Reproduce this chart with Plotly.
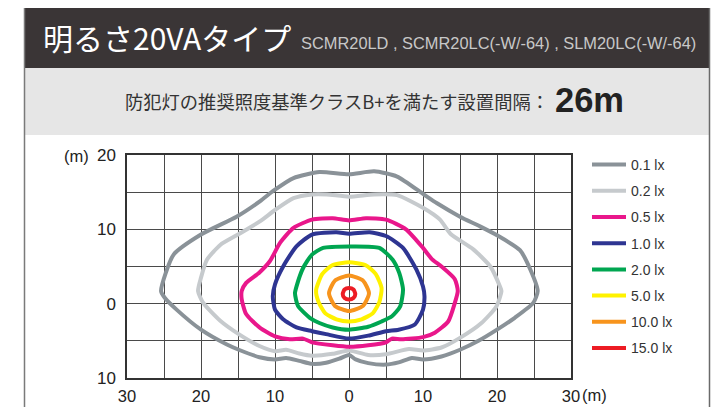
import plotly.graph_objects as go

# ---------------- data ----------------
levels = ["0.1 lx", "0.2 lx", "0.5 lx", "1.0 lx", "2.0 lx", "5.0 lx", "10.0 lx", "15.0 lx"]
colors = ["#8a9298", "#c6cacd", "#e9178b", "#2e3592", "#00a651", "#fff200", "#f7941d", "#ed1c24"]

lx01_x = [0, 3.4, 6.5, 10.1, 11.9, 15, 17.7, 20, 23.1, 24.5, 25.5, 24.9, 22.4, 20, 17.5, 15, 12.5, 10, 8.5, 6.7,
          5, 2.6, 0.9, 0, -1.3, -3.1, -5, -6.7, -8.5, -10, -12.1, -14.9, -16.5, -20, -23.3, -24.9, -25.4, -23.7, -20, -15.2,
          -12, -10.2, -7.5, -4, 0]
lx01_y = [17.4, 17.8, 17.1, 14.7, 13.5, 11.7, 10.4, 9.2, 7.2, 4.6, 1.7, 0.1, -1.9, -3.5, -5.0, -6.2, -7.1, -7.5, -7.3, -7.9,
          -8.2, -8.0, -7.5, -6.9, -7.4, -7.95, -8.1, -7.7, -7.3, -7.5, -7.2, -6.2, -5.5, -3.5, -0.8, 0.8, 1.7, 6.6, 9.3, 11.7,
          13.8, 15.2, 16.9, 17.7, 17.4]

lx02_x = [0, 3.4, 6.5, 10, 12.3, 13.7, 16.8, 19.1, 20.4, 20.6, 19.9, 17.9, 15, 12.5, 10, 8.1, 5, 2.6, 0, -2.2,
          -5, -6.7, -8.5, -10, -12.1, -14.9, -17.4, -19.7, -20.4, -20, -19.2, -17.4, -15, -12, -10, -7.5, -5, -3, 0]
lx02_y = [14.4, 14.7, 14.6, 12.9, 11.3, 9.4, 7.3, 5.0, 2.3, 1.7, -0.4, -2.6, -4.6, -5.9, -6.3, -6.1, -6.8, -6.9, -6.3, -6.75,
          -7.0, -6.7, -6.2, -6.4, -5.7, -4.1, -2.3, 0.1, 1.7, 3.5, 5.9, 7.9, 9.3, 11.1, 12.6, 14.2, 14.7, 14.7, 14.4]

lx05_x = [0, 2.3, 5, 7.7, 10, 11.2, 12.5, 14.3, 14.7, 14.3, 13.4, 11.6, 10, 7.1, 5.8, 5, 2.6, 0, -2.2, -5,
          -6.2, -8, -10, -12.1, -13.9, -14.5, -14.5, -13.9, -12.1, -10.7, -9.3, -7.5, -5, -2.2, 0]
lx05_y = [11.2, 11.5, 11.3, 10.0, 7.5, 6.0, 5.0, 3.3, 1.7, 0.1, -2.4, -3.9, -4.5, -4.8, -4.7, -5.2, -5.6, -5.8, -5.6, -5.2,
          -4.7, -4.8, -4.4, -3.2, -1.4, 0.6, 1.7, 2.8, 4.2, 5.7, 8.2, 10.2, 11.3, 11.5, 11.2]

lx10_x = [0, 2.8, 5, 7.3, 9.1, 10, 10.2, 10, 8.9, 6.7, 5, 2.6, 0, -3.1, -5, -7.1, -8.9, -10, -10.3, -10,
          -8.9, -7.1, -5, -1.7, 0]
lx10_y = [9.4, 9.6, 9.1, 7.5, 4.6, 2.3, 1.0, -0.8, -2.8, -3.5, -3.7, -4.3, -4.7, -4.1, -3.7, -3.2, -2.1, -0.8, 1.0, 2.6,
          5.0, 7.7, 9.3, 9.6, 9.4]

lx20_x = [0, 4.1, 5.9, 6.8, 7.3, 6.9, 5.8, 4.4, 2.6, 0, -2.2, -4, -5.3, -6.9, -7.3, -7.1, -6.2, -5, -3.5, 0]
lx20_y = [7.7, 7.5, 5.9, 4.1, 1.9, -0.4, -1.7, -2.4, -3.1, -3.5, -3.2, -2.6, -1.9, -0.3, 1.4, 2.3, 4.8, 6.6, 7.5, 7.7]

lx50_x = [0, 2.2, 3.6, 4.4, 4.1, 3.2, 1.7, 0, -1.7, -3.2, -4.1, -4.45, -3.6, -2.2, 0]
lx50_y = [5.56, 5.2, 4.0, 2.1, 0.2, -1.3, -2.1, -2.4, -2.1, -1.3, 0.2, 1.8, 4.0, 5.2, 5.56]

lx100_x = [0, 1.9, 2.7, 1.9, 0, -1.9, -2.7, -1.9, 0]
lx100_y = [3.8, 3.1, 1.4, -0.3, -1.0, -0.3, 1.4, 3.1, 3.8]

lx150_x = [0, 0.6, 0.85, 0.6, 0, -0.6, -0.85, -0.6, 0]
lx150_y = [2.1, 1.9, 1.3, 0.75, 0.55, 0.75, 1.3, 1.9, 2.1]

x_tickvals = [-30, -20, -10, 0, 10, 20, 30]
x_ticktext = ["30", "20", "10", "0", "10", "20", "30"]
y_tickvals = [-10, 0, 10, 20]
y_ticktext = ["10", "0", "10", "20"]

title_text = "明るさ20VAタイプ"
subtitle_text = "SCMR20LD , SCMR20LC(-W/-64) , SLM20LC(-W/-64)"
band_text = "防犯灯の推奨照度基準クラスB+を満たす設置間隔："
band_value = "26m"
unit_text = "(m)"

# ---------------- figure ----------------
OFF = 8                      # page body margin of the html page
W, H = 728 - OFF, 407 - OFF  # figure fits the window exactly
# plot area, in screenshot pixels
SL, SR, ST, SB = 127, 571, 155, 378
L, R, T, B = SL - OFF, SR - OFF, ST - OFF, SB - OFF


def px(xs):
    return (xs - OFF - L) / (R - L)


def py(ys):
    return (B - (ys - OFF)) / (B - T)


series = [(lx01_x, lx01_y), (lx02_x, lx02_y), (lx05_x, lx05_y), (lx10_x, lx10_y),
          (lx20_x, lx20_y), (lx50_x, lx50_y), (lx100_x, lx100_y), (lx150_x, lx150_y)]

fig = go.Figure()
for i, ((xs, ys), name, col) in enumerate(zip(series, levels, colors)):
    fig.add_trace(go.Scatter(
        x=xs, y=ys, name=name, mode="lines",
        line=dict(color=col, width=4, shape="spline", smoothing=0.6),
        legendgroup="g%d" % i, hoverinfo="name",
    ))

grid_col = "#4a4a4a"
fig.update_xaxes(
    range=[-30, 30], tickvals=x_tickvals, ticktext=x_ticktext,
    showgrid=True, gridcolor=grid_col, gridwidth=1.3,
    minor=dict(dtick=5, tick0=0, showgrid=True, gridcolor=grid_col, gridwidth=1.3),
    showline=True, linecolor="#333333", linewidth=1.5, mirror=True,
    zeroline=False, ticks="", ticklabelstandoff=2,
    tickfont=dict(family="Liberation Sans, Arial, sans-serif", size=16.5, color="#222222"),
)
fig.update_yaxes(
    range=[-10, 20], tickvals=y_tickvals, ticktext=y_ticktext,
    showgrid=True, gridcolor=grid_col, gridwidth=1.3,
    minor=dict(dtick=5, tick0=0, showgrid=True, gridcolor=grid_col, gridwidth=1.3),
    showline=True, linecolor="#333333", linewidth=1.5, mirror=True,
    zeroline=False, ticks="", ticklabelstandoff=6,
    tickfont=dict(family="Liberation Sans, Arial, sans-serif", size=17, color="#222222"),
)

shapes = [
    # header bar
    dict(type="rect", xref="paper", yref="paper", x0=px(24), x1=px(710), y0=py(68), y1=py(6),
         fillcolor="#3a3536", line=dict(width=0), layer="below"),
    # grey band
    dict(type="rect", xref="paper", yref="paper", x0=px(24), x1=px(710), y0=py(135), y1=py(68),
         fillcolor="#e6e6e6", line=dict(width=0), layer="below"),
    # frame sides
    dict(type="line", xref="paper", yref="paper", x0=px(24.5), x1=px(24.5), y0=py(410), y1=py(6),
         line=dict(color="#7a7a7a", width=1.5)),
    dict(type="line", xref="paper", yref="paper", x0=px(709.5), x1=px(709.5), y0=py(410), y1=py(6),
         line=dict(color="#6a6a6a", width=1.5)),
]

cjk = "Noto Sans CJK JP, Noto Sans, sans-serif"
latin = "Liberation Sans, Arial, sans-serif"
annotations = [
    dict(text=title_text, x=px(41), y=py(37), xref="paper", yref="paper", xanchor="left", yanchor="middle",
         showarrow=False, font=dict(family=cjk, size=30, color="#ffffff")),
    dict(text=subtitle_text, x=px(299), y=py(43), xref="paper", yref="paper", xanchor="left", yanchor="middle",
         showarrow=False, font=dict(family="Liberation Sans Narrow, Liberation Sans, Arial, sans-serif", size=16.4,
                                    color="#c8c8c8")),
    dict(text=band_text, x=px(551), y=py(101), xref="paper", yref="paper", xanchor="right", yanchor="middle",
         showarrow=False, font=dict(family=cjk, size=18.3, color="#333333")),
    dict(text="<b>" + band_value + "</b>", x=px(553), y=py(100), xref="paper", yref="paper", xanchor="left",
         yanchor="middle", showarrow=False, font=dict(family=latin, size=34.5, color="#222222")),
    dict(text=unit_text, x=px(76), y=py(156), xref="paper", yref="paper", xanchor="center", yanchor="middle",
         showarrow=False, font=dict(family=latin, size=16.5, color="#222222")),
    dict(text=unit_text, x=px(594), y=py(395), xref="paper", yref="paper", xanchor="center", yanchor="middle",
         showarrow=False, font=dict(family=latin, size=16.5, color="#222222")),
]

fig.update_layout(
    width=W, height=H,
    margin=dict(l=L, r=W - R, t=T, b=H - B, pad=0, autoexpand=False),
    paper_bgcolor="#ffffff", plot_bgcolor="#ffffff",
    shapes=shapes, annotations=annotations,
    showlegend=True,
    legend=dict(
        xref="container", yref="container", x=(587 - OFF) / W, y=1 - (149 - OFF) / H, xanchor="left", yanchor="top",
        traceorder="grouped", tracegroupgap=5.0, bgcolor="rgba(0,0,0,0)", maxheight=300, itemwidth=34,
        font=dict(family=latin, size=14, color="#333333"),
        itemclick=False, itemdoubleclick=False,
    ),
)

fig.write_html("out.html")
